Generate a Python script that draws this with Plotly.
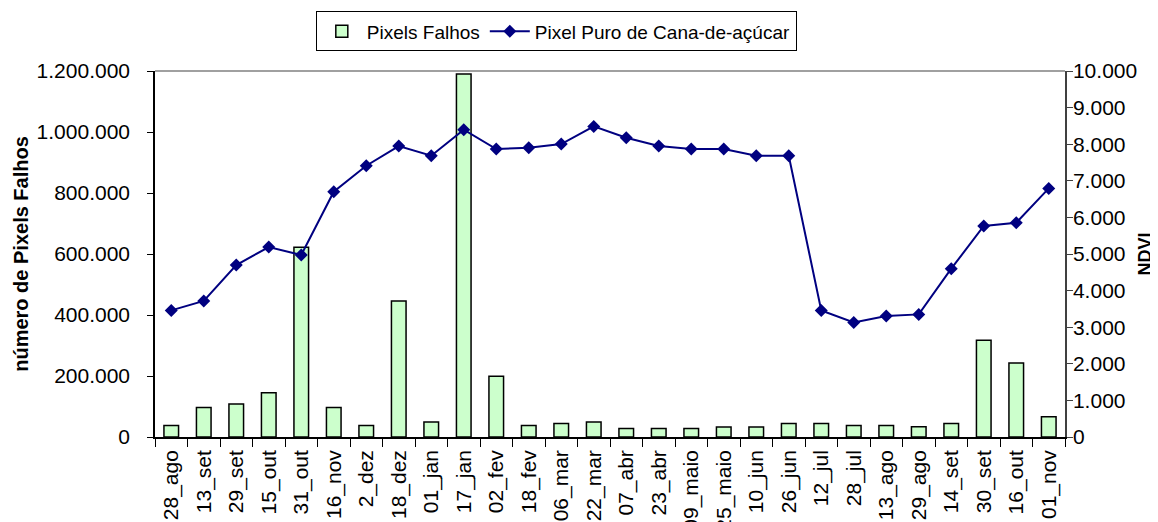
import plotly.graph_objects as go

categories = ["28_ago", "13_set", "29_set", "15_out", "31_out", "16_nov", "2_dez", "18_dez",
              "01_jan", "17_jan", "02_fev", "18_fev", "06_mar", "22_mar", "07_abr", "23_abr",
              "09_maio", "25_maio", "10_jun", "26_jun", "12_jul", "28_jul", "13_ago", "29_ago",
              "14_set", "30_set", "16_out", "01_nov"]

pixels_falhos = [38000, 97000, 108000, 145000, 622000, 97000, 38000, 446000,
                 49000, 1190000, 199000, 38000, 44000, 49000, 28000, 28000,
                 28000, 33000, 33000, 44000, 44000, 38000, 38000, 34000,
                 44000, 317000, 243000, 66000]

ndvi = [3459, 3716, 4699, 5191, 4972, 6702, 7412, 7950,
        7686, 8395, 7868, 7904, 8005, 8486, 8177, 7950,
        7868, 7868, 7686, 7686, 3459, 3130, 3306, 3350,
        4598, 5765, 5855, 6793]

left_ticks = [0, 200000, 400000, 600000, 800000, 1000000, 1200000]
right_ticks = list(range(0, 10001, 1000))

FONT = "Liberation Sans, Arial, sans-serif"
TICK_SIZE = 21

fig = go.Figure()
fig.add_trace(go.Bar(
    x=categories, y=pixels_falhos, name="Pixels Falhos",
    marker=dict(color="#CCFFCC", line=dict(color="black", width=1.5)),
    yaxis="y",
))
fig.add_trace(go.Scatter(
    x=categories, y=ndvi, name="Pixel Puro de Cana-de-açúcar",
    mode="lines+markers",
    line=dict(color="#000080", width=2),
    marker=dict(symbol="diamond", size=10, color="#000080"),
    yaxis="y2",
))

fig.update_layout(
    template="none",
    width=1158, height=522,
    margin=dict(l=147, r=101, t=63, b=93, autoexpand=False),
    paper_bgcolor="white", plot_bgcolor="white",
    separators=",.",
    font=dict(family=FONT, size=19, color="black"),
    bargap=0.55,
    showlegend=True,
    legend=dict(
        orientation="h", x=0.441, xanchor="center", y=1.163, yanchor="top",
        bordercolor="black", borderwidth=1, bgcolor="white",
        font=dict(family=FONT, size=19, color="black"),
        itemwidth=40, tracegroupgap=0,
    ),
    xaxis=dict(
        type="category", range=[-0.5, 27.5], tickangle=-90, tickson="boundaries",
        ticks="outside", ticklen=8, tickcolor="black", tickwidth=1,
        ticklabelstandoff=3,
        showline=True, linecolor="black", linewidth=1.5,
        showgrid=False, zeroline=False, automargin=False,
        tickfont=dict(family=FONT, size=TICK_SIZE, color="black"),
    ),
    yaxis=dict(
        range=[0, 1200000], tickvals=left_ticks, tickformat=",d",
        ticks="outside", ticklen=6, tickcolor="black",
        ticklabelstandoff=13,
        showline=True, linecolor="black", linewidth=1.5,
        showgrid=False, zeroline=False, automargin=False,
        title=dict(text="<b>número de Pixels Falhos</b>", standoff=3,
                   font=dict(family=FONT, size=20, color="black")),
        tickfont=dict(family=FONT, size=TICK_SIZE, color="black"),
    ),
    yaxis2=dict(
        range=[0, 10000], tickvals=right_ticks, tickformat=",d",
        overlaying="y", side="right",
        ticks="outside", ticklen=6, tickcolor="#404040",
        ticklabelstandoff=-4,
        showline=True, linecolor="#404040", linewidth=1.5,
        showgrid=False, zeroline=False, automargin=False,
        title=dict(text="<b>NDVI</b>", standoff=2,
                   font=dict(family=FONT, size=18, color="black")),
        tickfont=dict(family=FONT, size=TICK_SIZE, color="black"),
    ),
    shapes=[dict(type="line", xref="paper", yref="paper", x0=0, x1=1, y0=1, y1=1,
                 line=dict(color="#808080", width=1.5))],
)

fig.write_html("out.html")
